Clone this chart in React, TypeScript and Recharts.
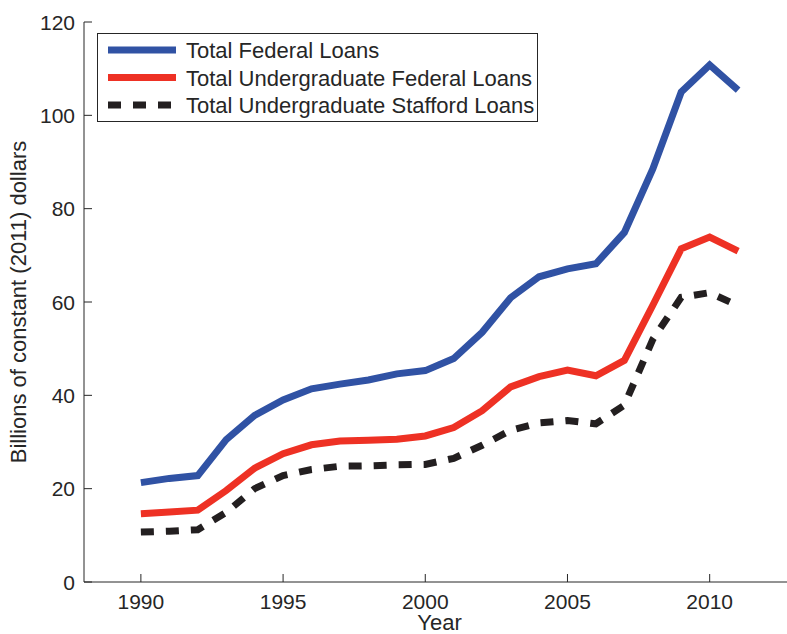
import { LineChart, Line, XAxis, YAxis, Legend } from 'recharts';

const years = [1990, 1991, 1992, 1993, 1994, 1995, 1996, 1997, 1998, 1999, 2000, 2001, 2002, 2003, 2004, 2005, 2006, 2007, 2008, 2009, 2010, 2011];
const totalFederal = [21.3, 22.2, 22.8, 30.5, 35.7, 39.0, 41.4, 42.4, 43.3, 44.6, 45.3, 47.9, 53.5, 60.9, 65.4, 67.1, 68.2, 74.9, 88.5, 105.0, 110.8, 105.4];
const undergradFederal = [14.6, 15.0, 15.4, 19.6, 24.4, 27.5, 29.4, 30.2, 30.4, 30.6, 31.3, 33.1, 36.7, 41.8, 44.0, 45.4, 44.2, 47.5, 59.3, 71.4, 73.9, 70.9];
const undergradStafford = [10.7, 10.9, 11.2, 14.9, 20.0, 22.8, 24.1, 24.8, 24.9, 25.1, 25.2, 26.5, 29.3, 32.5, 34.1, 34.6, 33.9, 37.9, 52.0, 61.0, 62.0, 59.2];

const xTicks = [1990, 1995, 2000, 2005, 2010];
const yTicks = [0, 20, 40, 60, 80, 100, 120];

const series = [
  { key: 'federal', name: 'Total Federal Loans', color: '#3052A4', dash: undefined },
  { key: 'undergrad', name: 'Total Undergraduate Federal Loans', color: '#EE3124', dash: undefined },
  { key: 'stafford', name: 'Total Undergraduate Stafford Loans', color: '#231F20', dash: '13 12' },
];

const data = years.map((year, i) => ({
  year,
  federal: totalFederal[i],
  undergrad: undergradFederal[i],
  stafford: undergradStafford[i],
}));

const FONT = '"Liberation Sans", Arial, Helvetica, sans-serif';
const INK = '#262626';
const TICK = 8;

const BottomTick = ({ x, y, payload }: any) => (
  <g>
    <line x1={x} x2={x} y1={y} y2={y - TICK} stroke={INK} />
    <text x={x} y={y + 27} textAnchor="middle" fontSize={21} fontFamily={FONT} fill={INK}>
      {payload.value}
    </text>
  </g>
);

const TopTick = ({ x, y }: any) => <line x1={x} x2={x} y1={y} y2={y + TICK} stroke={INK} />;

const LeftTick = ({ x, y, payload }: any) => (
  <g>
    <line x1={x} x2={x + TICK} y1={y} y2={y} stroke={INK} />
    <text x={x - 9} y={y + 7.5} textAnchor="end" fontSize={21} fontFamily={FONT} fill={INK}>
      {payload.value}
    </text>
  </g>
);

const RightTick = ({ x, y }: any) => <line x1={x} x2={x - TICK} y1={y} y2={y} stroke={INK} />;

const LegendBox = () => (
  <svg width={442} height={90} style={{ display: 'block' }}>
    <rect x={0.5} y={0.5} width={440} height={88} fill="#fff" stroke={INK} />
    {series.map((s, i) => {
      const cy = 17 + i * 27.5;
      return (
        <g key={s.key}>
          <line x1={11} x2={79} y1={cy} y2={cy} stroke={s.color} strokeWidth={7} strokeDasharray={s.dash} />
          <text x={89} y={cy + 8} fontSize={22} fontFamily={FONT} fill={INK}>
            {s.name}
          </text>
        </g>
      );
    })}
  </svg>
);

export default function App() {
  return (
    <div style={{ position: 'fixed', left: 0, top: 0, width: 787, height: 634, overflow: 'hidden', background: '#fff' }}>
      <LineChart width={800} height={634} data={data} margin={{ top: 22, right: 5, bottom: 0, left: 0 }}>
        <XAxis
          dataKey="year"
          type="number"
          domain={[1988, 2013]}
          ticks={xTicks}
          height={52}
          tickSize={0}
          tickMargin={0}
          tickLine={false}
          tick={<BottomTick />}
          axisLine={{ stroke: INK }}
          label={{
            content: () => (
              <text x={439.5} y={630} textAnchor="middle" fontSize={22} fontFamily={FONT} fill={INK}>
                Year
              </text>
            ),
          }}
        />
        <XAxis
          xAxisId="top"
          dataKey="year"
          type="number"
          orientation="top"
          domain={[1988, 2013]}
          ticks={xTicks}
          height={0}
          tickSize={0}
          tickMargin={0}
          tickLine={false}
          tick={<TopTick />}
          axisLine={{ stroke: INK }}
        />
        <YAxis
          domain={[0, 120]}
          ticks={yTicks}
          width={84}
          tickSize={0}
          tickMargin={0}
          tickLine={false}
          tick={<LeftTick />}
          axisLine={{ stroke: INK }}
          label={{
            content: () => (
              <text
                x={26}
                y={302}
                transform="rotate(-90, 26, 302)"
                textAnchor="middle"
                fontSize={22}
                fontFamily={FONT}
                fill={INK}
              >
                Billions of constant (2011) dollars
              </text>
            ),
          }}
        />
        <YAxis
          yAxisId="right"
          orientation="right"
          domain={[0, 120]}
          ticks={yTicks}
          width={0}
          tickSize={0}
          tickMargin={0}
          tickLine={false}
          tick={<RightTick />}
          axisLine={{ stroke: INK }}
        />
        <Legend
          layout="horizontal"
          verticalAlign="middle"
          align="center"
          content={<LegendBox />}
          wrapperStyle={{ left: 97, top: 33, width: 442, height: 90 }}
        />
        {series.map((s) => (
          <Line
            key={s.key}
            dataKey={s.key}
            name={s.name}
            stroke={s.color}
            strokeWidth={7}
            strokeDasharray={s.dash}
            strokeLinecap="butt"
            dot={false}
            activeDot={false}
            isAnimationActive={false}
          />
        ))}
      </LineChart>
    </div>
  );
}
